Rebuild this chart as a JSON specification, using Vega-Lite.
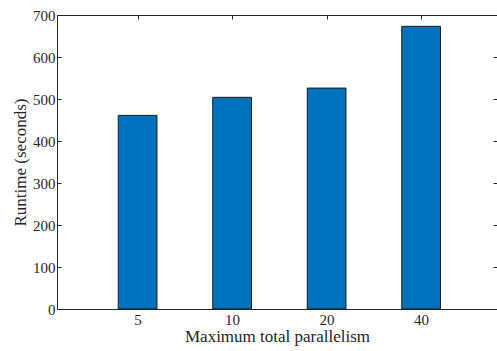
{
  "$schema": "https://vega.github.io/schema/vega-lite/v6.json",
  "autosize": "none",
  "padding": {"left": 57, "top": 15, "right": 0, "bottom": 42},
  "width": 440,
  "height": 294,
  "background": "white",
  "config": {
    "view": {"stroke": null},
    "font": "Liberation Serif",
    "axis": {
      "labelFont": "Liberation Serif",
      "titleFont": "Liberation Serif",
      "labelFontSize": 15,
      "titleFontSize": 17,
      "titleFontWeight": "normal",
      "labelColor": "#262626",
      "titleColor": "#262626",
      "domainColor": "#262626",
      "tickColor": "#262626",
      "domainWidth": 1,
      "tickWidth": 1,
      "tickSize": -4,
      "grid": false
    }
  },
  "data": {
    "values": [
      {"idx": 1, "parallelism": "5", "runtime": 461},
      {"idx": 2, "parallelism": "10", "runtime": 504},
      {"idx": 3, "parallelism": "20", "runtime": 526},
      {"idx": 4, "parallelism": "40", "runtime": 673}
    ]
  },
  "resolve": {"axis": {"x": "independent", "y": "independent"}},
  "layer": [
    {
      "mark": {"type": "bar", "size": 38.7, "color": "#0072BD", "stroke": "#1a1a1a", "strokeWidth": 1},
      "encoding": {
        "x": {
          "field": "idx", "type": "quantitative",
          "scale": {"domain": [0.2, 4.75], "nice": false, "zero": false},
          "axis": {"orient": "bottom", "values": [1, 2, 3, 4], "labelExpr": "['5','10','20','40'][datum.value-1]", "title": "Maximum total parallelism", "labelPadding": 7, "titlePadding": 1}
        },
        "y": {
          "field": "runtime", "type": "quantitative",
          "scale": {"domain": [0, 700], "nice": false},
          "axis": {"orient": "left", "values": [0, 100, 200, 300, 400, 500, 600, 700], "title": "Runtime (seconds)", "labelPadding": 6, "titlePadding": 3}
        }
      }
    },
    {
      "mark": {"type": "bar", "size": 38.7, "opacity": 0},
      "encoding": {
        "x": {
          "field": "idx", "type": "quantitative",
          "axis": {"orient": "top", "values": [1, 2, 3, 4], "labels": false, "title": null}
        },
        "y": {
          "field": "runtime", "type": "quantitative",
          "axis": {"orient": "right", "values": [0, 100, 200, 300, 400, 500, 600, 700], "labels": false, "title": null}
        }
      }
    }
  ]
}
